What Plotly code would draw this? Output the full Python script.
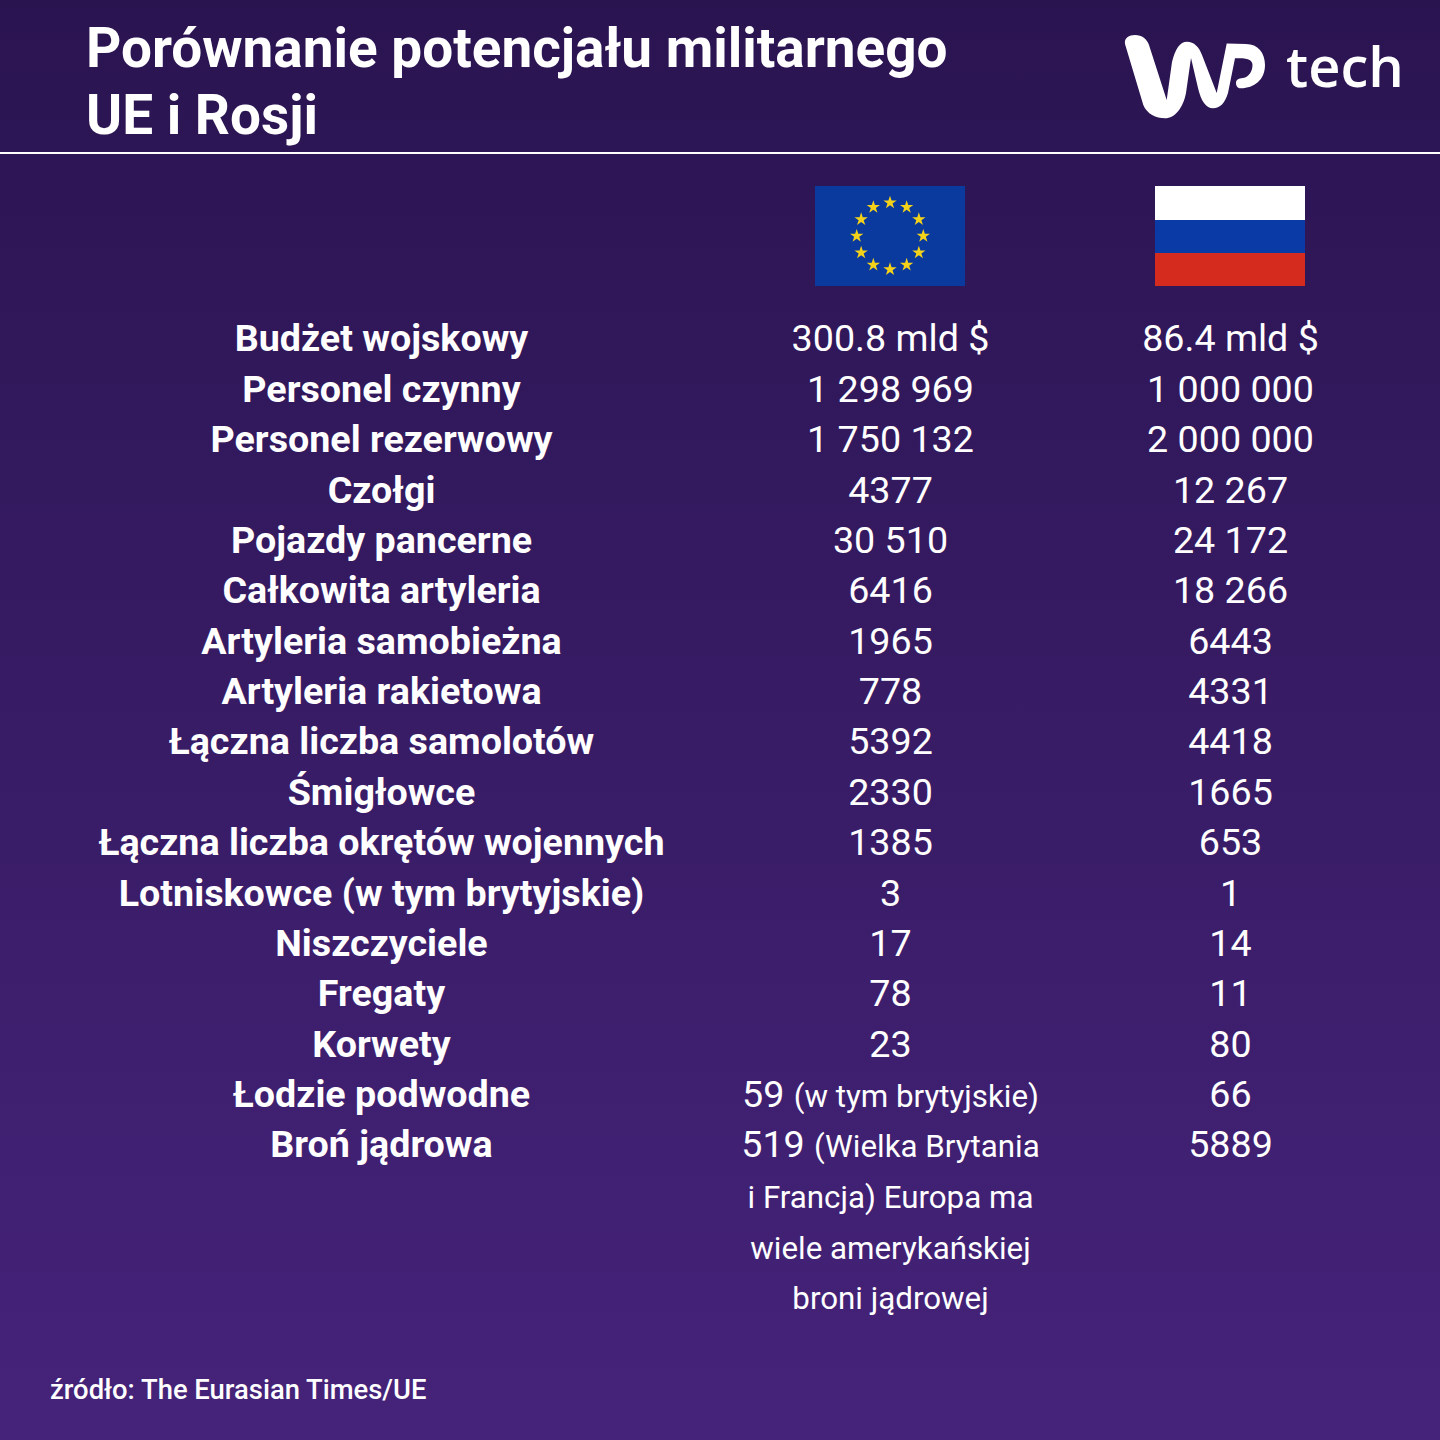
import numpy as np
import plotly.graph_objects as go

TITLE_LINES = ["Porównanie potencjału militarnego", "UE i Rosji"]
SOURCE = "źródło: The Eurasian Times/UE"
BRAND = "tech"

labels = ["Budżet wojskowy", "Personel czynny", "Personel rezerwowy", "Czołgi",
          "Pojazdy pancerne", "Całkowita artyleria", "Artyleria samobieżna",
          "Artyleria rakietowa", "Łączna liczba samolotów", "Śmigłowce",
          "Łączna liczba okrętów wojennych", "Lotniskowce (w tym brytyjskie)",
          "Niszczyciele", "Fregaty", "Korwety", "Łodzie podwodne", "Broń jądrowa"]
eu_values = ["300.8 mld $", "1 298 969", "1 750 132", "4377", "30 510", "6416", "1965",
             "778", "5392", "2330", "1385", "3", "17", "78", "23",
             "59 <span style='font-size:31.3px'>(w tym brytyjskie)</span>",
             "519 <span style='font-size:31.3px'>(Wielka Brytania</span>"]
ru_values = ["86.4 mld $", "1 000 000", "2 000 000", "12 267", "24 172", "18 266", "6443",
             "4331", "4418", "1665", "653", "1", "14", "11", "80", "66", "5889"]
eu_note = ["i Francja) Europa ma", "wiele amerykańskiej", "broni jądrowej"]

FIRST_ROW = 342
ROW_STEP = 50.38
NOTE_SHIFT = 2
COL_LABEL, COL_EU, COL_RU = 381.5, 890.5, 1230.5
WHITE = "#ffffff"

rows = [FIRST_ROW + ROW_STEP * i for i in range(len(labels))]
note_rows = [FIRST_ROW + NOTE_SHIFT + ROW_STEP * (len(labels) + i) for i in range(len(eu_note))]

fig = go.Figure()

# tlo z gradientem
fig.add_trace(go.Scatter(x=[0, 1440, 1440, 0, 0], y=[0, 0, 1440, 1440, 0], mode="lines",
                         fill="toself", line=dict(width=0),
                         fillgradient=dict(type="vertical", colorscale=[[0, "#2a1450"], [1, "#45237a"]],
                                           start=0, stop=1440),
                         hoverinfo="skip"))

def text_col(x, y, text, size, weight=400):
    fig.add_trace(go.Scatter(x=[x] * len(y), y=y, text=text, mode="text",
                             textposition="middle center",
                             textfont=dict(family="Roboto", size=size, color=WHITE, weight=weight),
                             hoverinfo="skip"))

text_col(COL_LABEL, rows, labels, 37.65, 700)
text_col(COL_EU, rows, eu_values, 37.65)
text_col(COL_RU, rows, ru_values, 37.65)
text_col(COL_EU, note_rows, eu_note, 31.3)

# flaga UE jako trace, zeby gwiazdki byly nad nia
fig.add_trace(go.Scatter(x=[815, 965, 965, 815, 815], y=[186, 186, 286, 286, 186], mode="lines",
                         fill="toself", fillcolor="#0a3a9e", line=dict(width=0), hoverinfo="skip"))
angles = np.arange(12) * np.pi / 6
fig.add_trace(go.Scatter(x=890 + 33.3 * np.sin(angles), y=236 - 33.3 * np.cos(angles), mode="markers",
                         marker=dict(symbol="star", size=10, color="#f5d21a", line=dict(width=0)),
                         hoverinfo="skip"))

shapes = [
    dict(type="line", x0=0, x1=1440, y0=153, y1=153, line=dict(color=WHITE, width=2)),
    dict(type="rect", x0=1155, x1=1305, y0=186, y1=220, fillcolor="#ffffff", line_width=0),
    dict(type="rect", x0=1155, x1=1305, y0=220, y1=253, fillcolor="#0a3aa5", line_width=0),
    dict(type="rect", x0=1155, x1=1305, y0=253, y1=286, fillcolor="#d42b1e", line_width=0),
    # logo WP
    dict(type="path", fillcolor=WHITE, line_width=0,
         path="M1125,44 C1124,38 1129,35 1135,35 C1142,35 1147,39 1149,45 L1166.7,100 L1172,62 "
              "C1175,49 1180,41.7 1187,41.7 C1194,41.7 1199,47 1202,55 L1216.7,93 L1226.7,43.5 "
              "L1246,44 C1258,44 1265,53 1265,65 C1265,80 1254,88 1241,88.3 C1237,88.5 1236,85 1236,83 "
              "C1236,80 1238,78.5 1243,78 C1249,77 1252.5,71 1252.5,65 C1252.5,60 1248,57.5 1235,58.3 "
              "L1228,93 C1225,103 1220,108.3 1213,108.3 C1206,108.3 1201,101 1198,88 L1191,58 "
              "L1186,93 C1183,108 1175,118.3 1165,118.3 C1156,118.3 1147,114 1143.3,105 Z"),
]
fig.update_layout(shapes=shapes)

annots = [dict(x=84, y=48, text=TITLE_LINES[0], font=dict(size=54.9, family="Roboto", weight=700)),
          dict(x=84, y=115, text=TITLE_LINES[1], font=dict(size=54.9, family="Roboto", weight=700)),
          dict(x=1284, y=65, text=BRAND, font=dict(size=56, family="Open Sans", weight=600)),
          dict(x=48, y=1390, text=SOURCE, font=dict(size=27.4, family="Roboto", weight=500))]
for a in annots:
    a["font"]["color"] = WHITE
    fig.add_annotation(xanchor="left", yanchor="middle", showarrow=False, **a)

fig.update_layout(width=1440, height=1440, margin=dict(l=0, r=0, t=0, b=0), showlegend=False,
                  paper_bgcolor="#2a1450", plot_bgcolor="#2a1450",
                  xaxis=dict(range=[0, 1440], visible=False, fixedrange=True),
                  yaxis=dict(range=[1440, 0], visible=False, fixedrange=True))

fig.write_html("out.html", config=dict(displayModeBar=False),
               post_script="document.body.style.margin='0';")
